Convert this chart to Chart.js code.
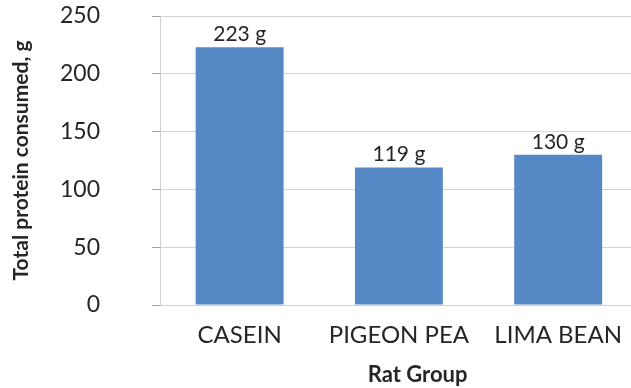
<!DOCTYPE html>
<html>
<head>
<meta charset="utf-8">
<script src="https://cdn.jsdelivr.net/npm/chart.js@4"></script>
<style>
  html, body { margin: 0; padding: 0; background: #fff; overflow: hidden; }
  /* slightly wider than the window so the last category sits like the original */
  #wrap { width: 638px; height: 388px; }
</style>
</head>
<body>
<div id="wrap"><canvas id="proteinChart"></canvas></div>
<script>
// data
const groups = ['CASEIN', 'PIGEON PEA', 'LIMA BEAN'];
const protein = [223, 119, 130];
const valueUnit = ' g';
const yTicks = [0, 50, 100, 150, 200, 250];

const textColor = '#262626';

// value labels above each bar
const barLabels = {
  id: 'barLabels',
  afterDatasetsDraw(chart) {
    const c = chart.ctx;
    const meta = chart.getDatasetMeta(0);
    c.save();
    c.font = '21px Lato';
    c.fillStyle = textColor;
    c.textAlign = 'center';
    c.textBaseline = 'alphabetic';
    meta.data.forEach((bar, i) => {
      c.fillText(protein[i] + valueUnit, bar.x, bar.y - 6);
    });
    c.restore();
  }
};

new Chart(document.getElementById('proteinChart'), {
  type: 'bar',
  data: {
    labels: groups,
    datasets: [{
      data: protein,
      backgroundColor: '#5589C6',
      barPercentage: 0.552,
      categoryPercentage: 1
    }]
  },
  options: {
    responsive: true,
    maintainAspectRatio: false,
    animation: false,
    layout: { padding: { left: 9, top: 16, right: 0, bottom: 0 } },
    plugins: {
      legend: { display: false },
      tooltip: { enabled: false }
    },
    scales: {
      x: {
        afterFit(axis) { axis.height = 83; },
        grid: { display: false, drawTicks: false },
        border: { color: '#D0D0D0', width: 1 },
        ticks: { color: textColor, font: { family: 'Lato', size: 24 }, padding: 16, maxRotation: 0 },
        title: {
          // leading spaces nudge the title right, it sits off-centre in the original
          display: true, text: '       Rat Group', color: textColor,
          font: { family: 'Lato', size: 22, weight: 'bold' },
          padding: { top: 0, bottom: 0 }
        }
      },
      y: {
        min: 0, max: 250,
        afterBuildTicks(axis) { axis.ticks = yTicks.map(v => ({ value: v })); },
        // keep the axis box fixed, and don't let the label padding push the plot down
        afterFit(axis) {
          axis.width = 151;
          axis.paddingTop = 0;
          axis.paddingBottom = 0;
        },
        grid: { color: '#D4D4D4', tickLength: 8, tickColor: '#A6A6A6' },
        border: { color: '#D0D0D0', width: 1 },
        ticks: { color: textColor, font: { family: 'Lato', size: 23 }, padding: 52 },
        title: {
          display: true, text: 'Total protein consumed, g', color: textColor,
          font: { family: 'Lato', size: 21, weight: 'bold' },
          padding: { top: 0, bottom: 0 }
        }
      }
    }
  },
  plugins: [barLabels]
});
</script>
</body>
</html>
